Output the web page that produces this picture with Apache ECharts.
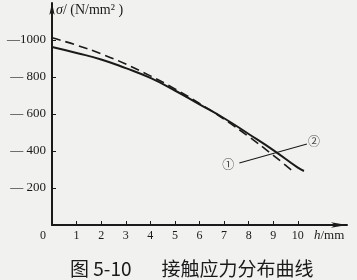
<!DOCTYPE html>
<html>
<head>
<meta charset="utf-8">
<script src="https://cdn.jsdelivr.net/npm/echarts@6/dist/echarts.min.js"></script>
<style>
html, body { margin: 0; padding: 0; background: #f1f1f0; }
#chart { width: 357px; height: 280px; }
</style>
</head>
<body>
<div id="chart"></div>
<script>
// 曲线① 实线
var hSolid = [0, 1, 2, 3, 4, 5, 6, 7, 8, 9, 10, 10.25];
var sigmaSolid = [962, 930, 895, 848, 795, 727, 652, 577, 492, 405, 310, 292];
// 曲线② 虚线
var hDash = [0, 1, 2, 3, 4, 5, 6, 7, 8, 9, 9.84];
var sigmaDash = [1012, 972, 925, 870, 806, 736, 657, 572, 478, 377, 286];
// 刻度
var xTicks = [0, 1, 2, 3, 4, 5, 6, 7, 8, 9, 10];
var yTicks = [200, 400, 600, 800, 1000];
// 引线与编号
var leader = [[7.62, 335], [10.37, 438]];
var tags = [['①', 7.17, 330], ['②', 10.66, 449]];

function pairs(xs, ys) {
    var out = [];
    for (var i = 0; i < xs.length; i++) out.push([xs[i], ys[i]]);
    return out;
}

var serif = '"Liberation Serif", "DejaVu Serif", serif';
var ink = '#1a1a1a';

var myChart = echarts.init(document.getElementById('chart'));
var option = {
    animation: false,
    backgroundColor: '#f1f1f0',
    title: {
        left: 65,
        top: 254,
        text: '{a|图 5-10}{b|接触应力分布曲线}',
        textStyle: {
            fontWeight: 'normal',
            rich: {
                a: { fontFamily: '"Noto Sans CJK SC"', fontSize: 19, fontWeight: 'normal', color: ink },
                b: { fontFamily: '"Noto Sans CJK SC"', fontSize: 19, fontWeight: 'normal', color: ink, padding: [0, 0, 0, 30] }
            }
        }
    },
    grid: { left: 52, right: 10, top: 3, bottom: 55, containLabel: false, outerBoundsMode: 'none' },
    xAxis: {
        type: 'value',
        min: 0, max: 12, interval: 1,
        splitLine: { show: false },
        axisLine: { lineStyle: { color: ink, width: 2 }, symbol: ['none', 'arrow'], symbolSize: [4, 16] },
        axisTick: { inside: true, length: 4, lineStyle: { color: ink }, customValues: xTicks },
        axisLabel: {
            customValues: xTicks,
            margin: 5,
            fontFamily: serif, fontSize: 12, color: ink,
            formatter: function (v) { return v === 0 ? '{z|0}' : v + ''; },
            rich: { z: { fontFamily: serif, fontSize: 12, color: ink, padding: [0, 18, 0, 0] } }
        },
        name: '{i|h}/mm',
        nameLocation: 'end',
        nameGap: -33,
        nameTextStyle: {
            fontFamily: serif, fontSize: 13, color: ink,
            align: 'left', verticalAlign: 'top', padding: [4, 0, 0, 0],
            rich: { i: { fontFamily: serif, fontSize: 13, fontStyle: 'italic', color: ink } }
        }
    },
    yAxis: {
        type: 'value',
        min: 0, max: 1200, interval: 200,
        splitLine: { show: false },
        axisLine: { lineStyle: { color: ink, width: 2 }, symbol: ['none', 'arrow'], symbolSize: [4, 12] },
        axisTick: { inside: true, length: 4, lineStyle: { color: ink }, customValues: yTicks },
        axisLabel: {
            customValues: yTicks,
            margin: 6,
            fontFamily: serif, fontSize: 13, color: ink,
            formatter: function (v) { return (v === 1000 ? '—' : '— ') + v; }
        },
        name: '{s|σ}/ (N/mm² )',
        nameLocation: 'end',
        nameGap: -14,
        nameTextStyle: {
            fontFamily: serif, fontSize: 14, color: ink,
            align: 'left', padding: [0, 0, 0, 4],
            rich: { s: { fontFamily: serif, fontSize: 14, fontStyle: 'italic', color: ink } }
        }
    },
    series: [
        {
            name: '①', type: 'line', smooth: true, showSymbol: false,
            data: pairs(hSolid, sigmaSolid),
            lineStyle: { color: ink, width: 2 }
        },
        {
            name: '②', type: 'line', smooth: true, showSymbol: false,
            data: pairs(hDash, sigmaDash),
            lineStyle: { color: ink, width: 1.6, type: [9, 5] }
        },
        {
            type: 'line', showSymbol: false,
            data: leader,
            lineStyle: { color: ink, width: 1.2 }
        },
        {
            type: 'scatter', symbolSize: 0,
            data: tags.map(function (t) { return { name: t[0], value: [t[1], t[2]] }; }),
            label: {
                show: true, position: 'inside', formatter: '{b}',
                fontFamily: '"Noto Sans CJK SC"', fontSize: 12, color: ink
            }
        }
    ]
};
myChart.setOption(option);
</script>
</body>
</html>
